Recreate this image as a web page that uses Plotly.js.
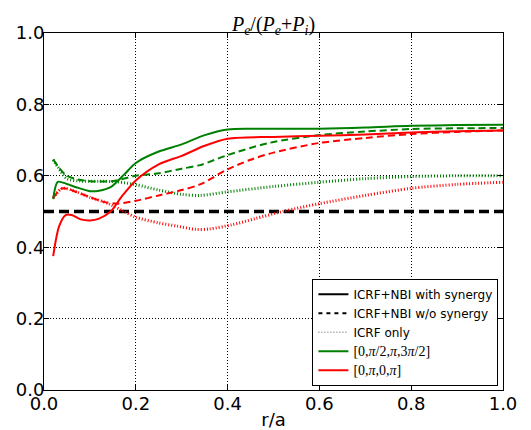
<!DOCTYPE html>
<html>
<head>
<meta charset="utf-8">
<script src="https://cdn.plot.ly/plotly-3.0.1.min.js"></script>
<style>html,body{margin:0;padding:0;background:#fff;}#chart{width:531px;height:430px;}</style>
</head>
<body>
<div id="chart"></div>
<script>
// r/a sample points and values
const rGreenSolid = [0.02, 0.03, 0.05, 0.07, 0.10, 0.12, 0.145, 0.175, 0.20, 0.25, 0.30, 0.35, 0.40, 0.45, 0.50, 0.60, 0.70, 0.80, 0.90, 1.00];
const greenSolid  = [0.535, 0.583, 0.577, 0.568, 0.557, 0.558, 0.568, 0.604, 0.636, 0.668, 0.688, 0.714, 0.730, 0.732, 0.732, 0.732, 0.735, 0.740, 0.742, 0.743];

const rRedSolid = [0.02, 0.033, 0.047, 0.06, 0.08, 0.10, 0.12, 0.145, 0.17, 0.20, 0.25, 0.30, 0.35, 0.40, 0.50, 0.60, 0.70, 0.80, 0.90, 1.00];
const redSolid  = [0.375, 0.459, 0.490, 0.490, 0.478, 0.475, 0.480, 0.500, 0.543, 0.587, 0.632, 0.656, 0.684, 0.704, 0.709, 0.712, 0.716, 0.721, 0.725, 0.727];

const rGreenDash = [0.02, 0.033, 0.05, 0.073, 0.10, 0.15, 0.20, 0.25, 0.30, 0.34, 0.40, 0.49, 0.60, 0.70, 0.80, 0.90, 1.00];
const greenDash  = [0.646, 0.622, 0.600, 0.590, 0.585, 0.585, 0.600, 0.607, 0.620, 0.630, 0.658, 0.692, 0.714, 0.724, 0.731, 0.733, 0.734];

const rRedDash = [0.02, 0.04, 0.07, 0.10, 0.13, 0.16, 0.20, 0.25, 0.30, 0.34, 0.40, 0.45, 0.50, 0.60, 0.70, 0.80, 0.90, 1.00];
const redDash  = [0.538, 0.565, 0.555, 0.540, 0.527, 0.522, 0.530, 0.545, 0.560, 0.576, 0.618, 0.645, 0.665, 0.692, 0.706, 0.717, 0.723, 0.727];

const rGreenDot = [0.02, 0.03, 0.05, 0.08, 0.12, 0.16, 0.20, 0.25, 0.30, 0.34, 0.40, 0.50, 0.60, 0.70, 0.80, 0.90, 1.00];
const greenDot  = [0.645, 0.625, 0.592, 0.585, 0.585, 0.583, 0.575, 0.560, 0.548, 0.545, 0.555, 0.570, 0.582, 0.592, 0.598, 0.600, 0.600];

const rRedDot = [0.02, 0.04, 0.07, 0.10, 0.14, 0.17, 0.20, 0.25, 0.29, 0.33, 0.36, 0.41, 0.46, 0.52, 0.60, 0.70, 0.80, 0.90, 1.00];
const redDot  = [0.538, 0.565, 0.555, 0.540, 0.522, 0.503, 0.484, 0.468, 0.459, 0.450, 0.451, 0.463, 0.480, 0.500, 0.522, 0.545, 0.565, 0.576, 0.582];

const rRef = [0.0, 1.0];
const refLine = [0.5, 0.5];

const legendLabels = [
  'ICRF+NBI with synergy',
  'ICRF+NBI w/o synergy',
  'ICRF only',
  '<span style="font-family:\'Liberation Serif\',serif;font-size:14px">[0,<i>π</i>/2,<i>π</i>,3<i>π</i>/2]</span>',
  '<span style="font-family:\'Liberation Serif\',serif;font-size:14px">[0,<i>π</i>,0,<i>π</i>]</span>'
];

const GREEN = '#008000', RED = '#ff0000';
const DASH = '7px,4px', DOT = '1px,2px';

function curve(x, y, color, dash, width) {
  return {x: x, y: y, mode: 'lines', type: 'scatter', showlegend: false, hoverinfo: 'skip',
          line: {color: color, width: width, dash: dash, shape: 'spline', smoothing: 0.8}};
}
function leg(name, color, dash, width) {
  return {x: [null], y: [null], mode: 'lines', type: 'scatter', name: name, showlegend: true,
          line: {color: color, width: width, dash: dash}};
}

const traces = [
  {x: rRef, y: refLine, mode: 'lines', type: 'scatter', showlegend: false, hoverinfo: 'skip',
   line: {color: '#000', width: 3.5, dash: '10px,5px'}},
  curve(rGreenDot, greenDot, GREEN, DOT, 3),
  curve(rRedDot, redDot, RED, DOT, 3),
  curve(rGreenDash, greenDash, GREEN, DASH, 2),
  curve(rRedDash, redDash, RED, DASH, 2),
  curve(rGreenSolid, greenSolid, GREEN, 'solid', 2),
  curve(rRedSolid, redSolid, RED, 'solid', 2),
  leg(legendLabels[0], '#000', 'solid', 2),
  leg(legendLabels[1], '#000', '4px,4px', 2),
  leg(legendLabels[2], '#555', '1px,2px', 1),
  leg(legendLabels[3], GREEN, 'solid', 2),
  leg(legendLabels[4], RED, 'solid', 2)
];

const axisCommon = {
  range: [0, 1], dtick: 0.2, tick0: 0, tickformat: '.1f',
  ticks: 'inside', ticklen: 5, tickwidth: 1, tickcolor: '#000',
  mirror: 'allticks', showline: true, linecolor: '#000', linewidth: 1,
  showgrid: true, gridcolor: '#000', griddash: '1px,2px', gridwidth: 1,
  zeroline: false, fixedrange: true,
  tickfont: {family: 'DejaVu Sans', size: 18, color: '#000'}
};

const layout = {
  width: 531, height: 430,
  margin: {l: 44, r: 28, t: 33, b: 40},
  paper_bgcolor: '#fff', plot_bgcolor: '#fff',
  title: {
    text: '<i>P</i><sub><i>e</i></sub>/(<i>P</i><sub><i>e</i></sub>+<i>P</i><sub><i>i</i></sub>)',
    font: {family: 'Liberation Serif', size: 20, color: '#000'},
    x: 0.5, xref: 'paper', xanchor: 'center',
    y: 1, yref: 'paper', yanchor: 'bottom', pad: {b: 2}
  },
  xaxis: Object.assign({}, axisCommon, {
    ticklabelstandoff: -3,
    title: {text: 'r/a', font: {family: 'DejaVu Sans', size: 18, color: '#000'}, standoff: 6}
  }),
  yaxis: Object.assign({}, axisCommon, {range: [0, 1], ticklabelstandoff: -5}),
  legend: {
    x: 0.99, y: 0.012, xanchor: 'right', yanchor: 'bottom',
    bgcolor: '#fff', bordercolor: '#000', borderwidth: 1,
    font: {family: 'DejaVu Sans', size: 12, color: '#000'},
    itemwidth: 30, tracegroupgap: 0
  },
  showlegend: true
};

Plotly.newPlot('chart', traces, layout, {staticPlot: true, displayModeBar: false});
</script>
</body>
</html>
